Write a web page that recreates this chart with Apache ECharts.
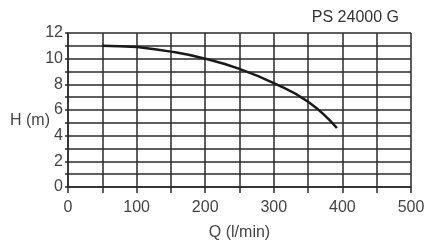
<!DOCTYPE html>
<html>
<head>
<meta charset="utf-8">
<script src="https://cdn.jsdelivr.net/npm/echarts@6/dist/echarts.min.js"></script>
<style>
  html, body { margin: 0; padding: 0; background: #fff; }
  #chart { width: 426px; height: 243px; }
</style>
</head>
<body>
<div id="chart"></div>
<script>
// pump curve PS 24000 G
var flowQ = [50, 75, 100, 150, 200, 250, 300, 350, 392];
var headH = [11.0, 10.97, 10.9, 10.55, 10.0, 9.2, 8.1, 6.65, 4.6];
var xTicks = [0, 100, 200, 300, 400, 500];
var yTicks = [0, 2, 4, 6, 8, 10, 12];

var font = 'Liberation Sans, Arial, sans-serif';
var gridColor = '#2a2a2a';
var textColor = '#444';

var chart = echarts.init(document.getElementById('chart'));
chart.setOption({
  animation: false,
  backgroundColor: '#fff',
  title: {
    text: 'PS 24000 G',
    right: 22,
    top: 5,
    textStyle: { fontFamily: font, fontSize: 16, fontWeight: 'normal', color: '#333' }
  },
  grid: { left: 68, right: 15, top: 33, bottom: 56, containLabel: false, outerBoundsMode: 'none' },
  xAxis: {
    type: 'value',
    min: 0,
    max: 500,
    interval: 50,
    name: 'Q (l/min)',
    nameLocation: 'middle',
    nameGap: 38,
    nameMoveOverlap: false,
    nameTextStyle: { fontFamily: font, fontSize: 16, color: textColor },
    axisLine: { show: true, lineStyle: { color: gridColor, width: 1.5 } },
    axisTick: { show: true, length: 6, lineStyle: { color: gridColor, width: 1.5 } },
    axisLabel: {
      interval: 0,
      margin: 13,
      fontFamily: font,
      fontSize: 16,
      color: textColor,
      formatter: function (v) { return xTicks.indexOf(v) >= 0 ? String(v) : ''; }
    },
    splitLine: { show: true, lineStyle: { color: gridColor, width: 1.5 } }
  },
  yAxis: {
    type: 'value',
    min: 0,
    max: 12,
    interval: 1,
    name: 'H (m)',
    nameLocation: 'middle',
    nameRotate: 0,
    nameGap: 18,
    nameMoveOverlap: false,
    nameTextStyle: { fontFamily: font, fontSize: 16, color: textColor, verticalAlign: 'top', padding: [3, 0, 0, 0] },
    axisLine: { show: true, lineStyle: { color: gridColor, width: 1.5 } },
    axisTick: { show: true, length: 3, lineStyle: { color: gridColor, width: 1.5 } },
    axisLabel: {
      interval: 0,
      margin: 5,
      fontFamily: font,
      fontSize: 16,
      color: textColor,
      formatter: function (v) { return yTicks.indexOf(v) >= 0 ? String(v) : ''; }
    },
    splitLine: { show: true, lineStyle: { color: gridColor, width: 1.5 } }
  },
  series: [{
    type: 'line',
    smooth: true,
    symbol: 'none',
    lineStyle: { color: '#1a1a1a', width: 2.5 },
    data: flowQ.map(function (q, i) { return [q, headH[i]]; })
  }]
});
</script>
</body>
</html>
